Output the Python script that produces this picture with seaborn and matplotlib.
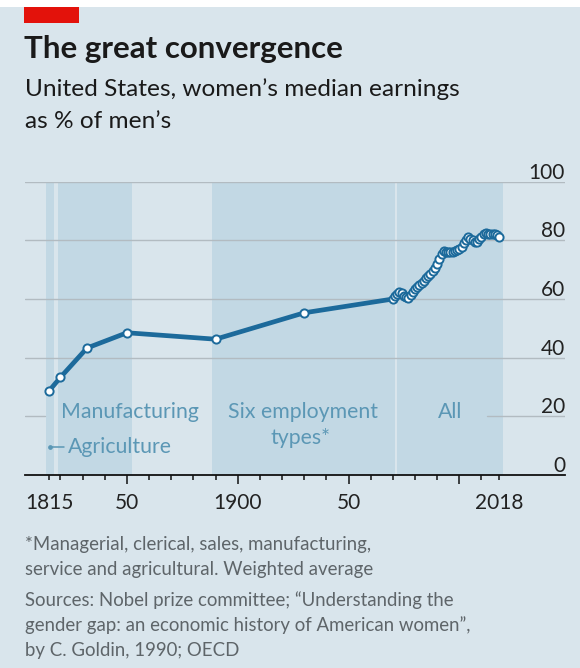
import matplotlib
matplotlib.use("Agg")
import matplotlib.pyplot as plt
import matplotlib.transforms as mtransforms
from matplotlib.patches import Rectangle
import pandas as pd
import seaborn as sns

# Women's median earnings as % of men's, United States
goldin_years = [1815, 1820, 1832, 1850, 1890, 1930, 1970]
goldin_values = [28.8, 33.3, 43.3, 48.5, 46.3, 55.3, 60.0]

oecd_years = list(range(1971, 2019))
oecd_values = [
    61.0, 61.8, 62.3, 62.0, 61.2, 60.8, 60.5, 61.5, 62.5, 63.3,   # 1971-1980
    64.0, 64.8, 65.5, 66.2, 67.0, 67.8, 68.6, 69.5, 70.5, 72.0,   # 1981-1990
    73.8, 75.3, 76.3, 76.2, 75.9, 76.0, 76.1, 76.3, 76.6, 77.0,   # 1991-2000
    77.8, 79.0, 80.2, 81.0, 80.5, 80.0, 79.6, 79.5, 80.5, 81.3,   # 2001-2010
    82.0, 82.4, 82.3, 82.0, 82.3, 82.2, 81.8, 81.2,               # 2011-2018
]

# Employment coverage of each estimate (years)
period_names = ["Agriculture", "Manufacturing", "Six employment types*", "All"]
period_start = [1813.6, 1818.7, 1888.3, 1971.7]
period_end = [1816.9, 1852.3, 1971.1, 2019.5]

y_ticks = [0, 20, 40, 60, 80, 100]
x_major = [1815, 1850, 1900, 1950, 2000, 2018]
x_major_labels = ["1815", "50", "1900", "50", "", "2018"]
x_minor = [y for y in range(1820, 2011, 10) if y not in x_major]

BG = "#d9e5ec"
SHADE = "#c2d8e4"
LINE = "#1c6a9b"
LABEL = "#5b97b5"
GRID = "#b2bbc1"
TEXT = "#1a1a1a"
NOTE = "#5e6569"

sns.set_theme(style="white")
plt.rcParams["font.family"] = ["Lato", "DejaVu Sans"]

W, H = 580, 668
fig = plt.figure(figsize=(W / 100, H / 100), dpi=100, facecolor=BG)

# header decorations
fig.add_artist(Rectangle((0, 1 - 7 / H), 1, 7 / H, transform=fig.transFigure,
                         color="white", lw=0))
fig.add_artist(Rectangle((24 / W, 1 - 23 / H), 55 / W, 16 / H,
                         transform=fig.transFigure, color="#e3120b", lw=0))

fig.text(24 / W, 1 - 58 / H, "The great convergence", fontsize=22.5,
         fontweight="bold", color=TEXT, va="baseline", ha="left")
fig.text(25 / W, 1 - 96 / H, "United States, women\u2019s median earnings",
         fontsize=17.6, color=TEXT, va="baseline", ha="left")
fig.text(25 / W, 1 - 128 / H, "as % of men\u2019s",
         fontsize=17.6, color=TEXT, va="baseline", ha="left")

ax = fig.add_axes([25 / W, 1 - 475 / H, 540 / W, (475 - 181.7) / H])
ax.set_facecolor(BG)
ax.set_xlim(1804.0, 2047.7)
ax.set_ylim(0, 100)

for s, e in zip(period_start, period_end):
    ax.axvspan(s, e, color=SHADE, lw=0, zorder=0)

# horizontal gridlines; the 20 line leaves room for the period labels
for y in y_ticks[2:]:
    ax.axhline(y, color=GRID, lw=1.0, zorder=1)
ax.plot([1804.0, 1813.0], [20, 20], color=GRID, lw=1.0, zorder=1)
ax.plot([2012.5, 2047.7], [20, 20], color=GRID, lw=1.0, zorder=1)

ylab_tr = mtransforms.blended_transform_factory(ax.transAxes, ax.transData)
for y in y_ticks:
    ax.text(1.0, y + 1.0, str(y), transform=ylab_tr, ha="right",
            va="baseline", fontsize=15, color="#222222")

df = pd.DataFrame({
    "year": goldin_years + oecd_years,
    "value": goldin_values + oecd_values,
})
sns.lineplot(data=df, x="year", y="value", ax=ax, color=LINE, lw=3.4,
             marker="o", markersize=5.9, markerfacecolor="white",
             markeredgecolor=LINE, markeredgewidth=1.4, zorder=3)

# period labels
lab_kw = dict(color=LABEL, fontsize=15.3, va="center", zorder=4)
ax.text(1851.4, 21.6, "Manufacturing", ha="center", **lab_kw)
ax.text(1929.6, 21.6, "Six employment", ha="center", **lab_kw)
ax.text(1928.2, 12.6, "types*", ha="center", **lab_kw)
ax.text(1995.9, 21.6, "All", ha="center", **lab_kw)
ax.text(1823.6, 9.4, "Agriculture", ha="left", **lab_kw)
ax.plot([1815.3, 1821.6], [9.6, 9.6], color=LABEL, lw=1.1, zorder=4)
ax.plot([1815.3], [9.6], marker="o", markersize=2.4, color=LABEL, zorder=4)

ax.set_xlabel("")
ax.set_ylabel("")
ax.set_yticks([])
for side in ("left", "right", "top"):
    ax.spines[side].set_visible(False)
ax.spines["bottom"].set_color("#111111")
ax.spines["bottom"].set_linewidth(1.3)
ax.spines["bottom"].set_zorder(5)

ax.set_xticks(x_major, labels=x_major_labels)
ax.set_xticks(x_minor, minor=True)
ax.tick_params(axis="x", which="both", bottom=True)
ax.tick_params(axis="x", which="major", direction="out", length=6.2,
               width=1.1, color="#111111", pad=6.5, labelsize=15,
               labelcolor="#222222")
ax.tick_params(axis="x", which="minor", direction="out", length=3.8,
               width=1.1, color="#111111")
for tick, yr in zip(ax.xaxis.get_major_ticks(), x_major):
    if yr in (1815, 2018):
        tick.tick1line.set_markersize(3.8)

foot_kw = dict(fontsize=13.4, color=NOTE, va="baseline", ha="left")
fig.text(25 / W, 1 - 550 / H, "*Managerial, clerical, sales, manufacturing,", **foot_kw)
fig.text(25 / W, 1 - 575 / H, "service and agricultural. Weighted average", **foot_kw)
fig.text(25 / W, 1 - 606 / H, "Sources: Nobel prize committee; \u201cUnderstanding the", **foot_kw)
fig.text(25 / W, 1 - 631 / H, "gender gap: an economic history of American women\u201d,", **foot_kw)
fig.text(25 / W, 1 - 656 / H, "by C. Goldin, 1990; OECD", **foot_kw)

fig.savefig("out.png", dpi=100, facecolor=BG)
